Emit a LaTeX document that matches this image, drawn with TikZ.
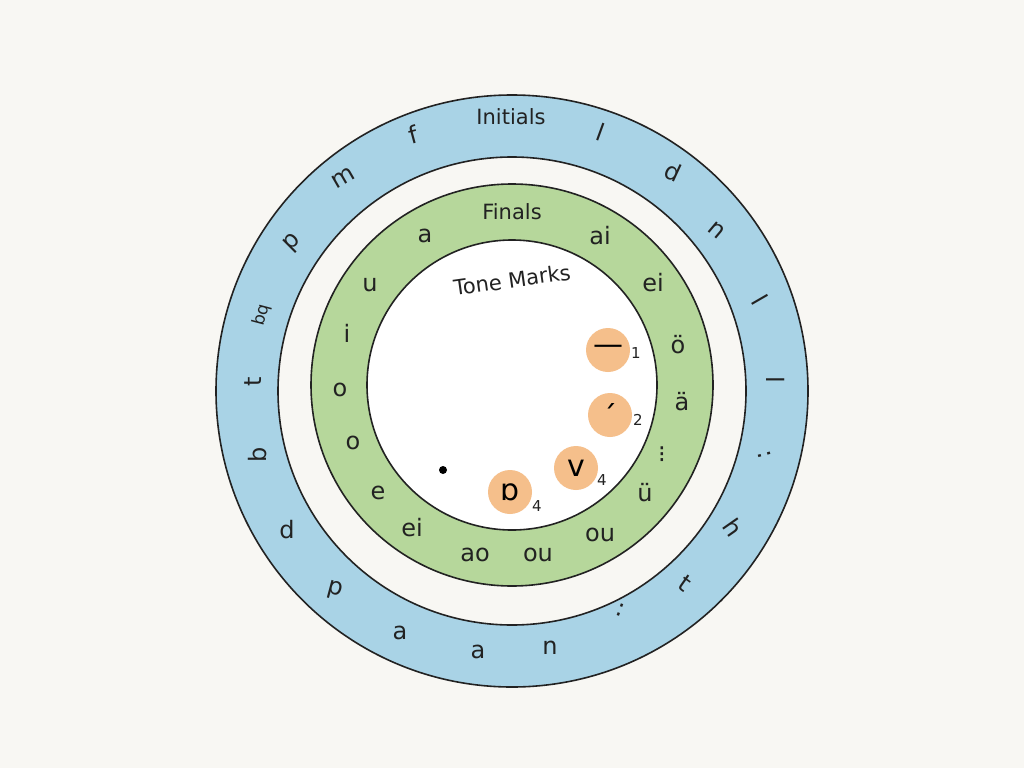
\documentclass[tikz,border=0pt]{standalone}
\usepackage{fontspec}
\setmainfont{DejaVu Sans}
\definecolor{bg}{HTML}{F8F7F3}
\definecolor{ringblue}{HTML}{A9D3E6}
\definecolor{ringgreen}{HTML}{B6D79B}
\definecolor{tone}{HTML}{F5BF8B}
\definecolor{ink}{HTML}{222222}
\begin{document}
\begin{tikzpicture}[x=1pt,y=-1pt,
  ring/.style={draw=ink,line width=1.6pt},
  lab/.style={font=\fontsize{24}{24}\selectfont,text=ink},
  title/.style={font=\fontsize{21}{21}\selectfont,text=ink},
  tonedot/.style={circle,fill=tone,minimum size=44pt,inner sep=0pt,font=\fontsize{30}{30}\selectfont,text=black},
  num/.style={font=\fontsize{15}{15}\selectfont,text=ink}]
\fill[bg] (0,0) rectangle (1024,768);
\useasboundingbox (0,0) rectangle (1024,768);
\coordinate (c) at (512,391);
\fill[ringblue,ring] (c) circle (296);
\fill[bg,ring] (c) circle (234);
\fill[ringgreen,ring] (512,385) circle (201);
\fill[white,ring] (512,385) circle (145);
% outer ring
\node[title] (ini) at (511,117) {Initials};
\foreach \t/\x/\y/\r [count=\i] in {f/413/135/15, m/343/178/30, p/293/243/45, t/253/382/90, b/258/455/90, d/287/530/0, p/335/590/-15, a/400/633/0, a/478/652/0, n/550/648/0, :/620/610/-20, t/685/583/-35, h/733/527/-55, :/765/455/-75, l/776/380/-90, l/760/300/-60, n/717/230/-40, d/673/172/-25, l/601/132/-20}
  \node[lab,rotate=\r] (o\i) at (\x,\y) {\t};
\node[font=\fontsize{17}{17}\selectfont,text=ink,rotate=75] (o20) at (262,315) {bq};
% green ring
\node[title] (fin) at (512,212) {Finals};
\foreach \t/\x/\y [count=\i] in {a/425/236, ai/600/236, ei/653/283, ö/678/345, ä/682/402, ⁝/662/455, ü/645/493, ou/600/535, ou/538/555, ao/475/555, ei/412/528, e/378/493, o/353/443, o/340/390, i/347/333, u/370/285}
  \node[lab] (g\i) at (\x,\y) {\t};
% tone marks
\node[title,rotate=8] (tm) at (512,280) {Tone Marks};
\node[tonedot] (t1) at (608,350) {—};
\node[num] (n1) at (636,353) {1};
\node[tonedot] (t2) at (610,415) {ˊ};
\node[num] (n2) at (638,420) {2};
\node[tonedot] (t3) at (576,468) {v};
\node[num] (n3) at (602,480) {4};
\node[tonedot] (t4) at (510,492) {ɒ};
\node[num] (n4) at (537,506) {4};
\node[circle,fill=black,inner sep=0pt,minimum size=8pt] (dot) at (443,470) {};
\end{tikzpicture}
\end{document}
